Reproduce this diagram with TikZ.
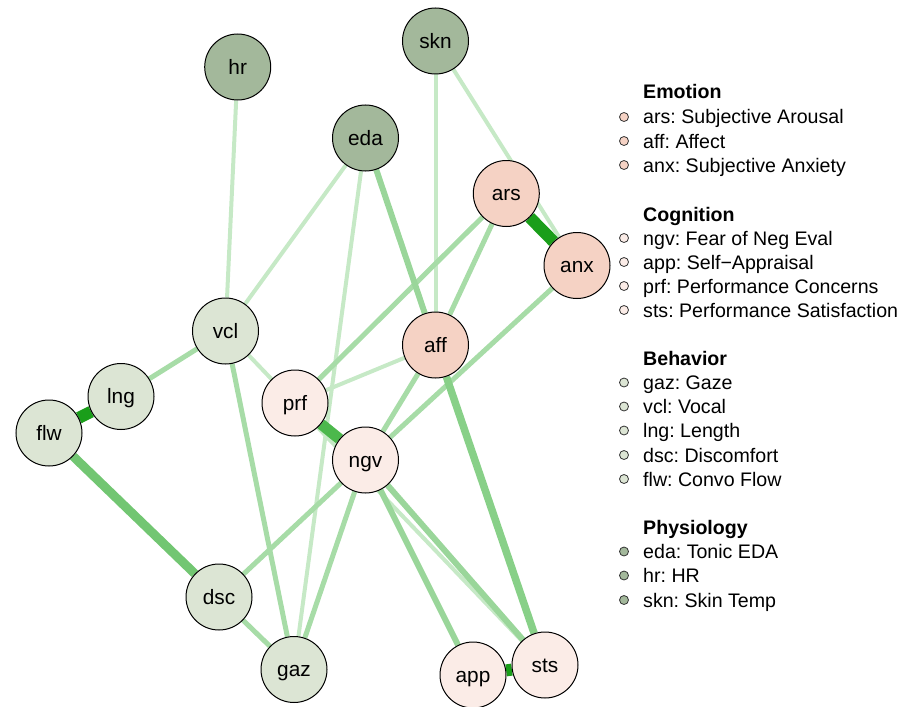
\documentclass[tikz,border=0pt]{standalone}
\usepackage{fontspec}
\setmainfont{Liberation Sans}
\usetikzlibrary{backgrounds}
\frenchspacing
\definecolor{phys}{HTML}{A3B89B}
\definecolor{emo}{HTML}{F5D2C4}
\definecolor{cog}{HTML}{FBECE7}
\definecolor{beh}{HTML}{DCE5D4}
\definecolor{cA}{HTML}{C6E9C6}
\definecolor{cB}{HTML}{A7DCA7}
\definecolor{cC}{HTML}{9AD69A}
\definecolor{cD}{HTML}{88D088}
\definecolor{cE}{HTML}{72C672}
\definecolor{cF}{HTML}{4CB84C}
\definecolor{cG}{HTML}{1A9E1A}
\begin{document}
\begin{tikzpicture}[x=1pt,y=-1pt,
  vnode/.style={circle,draw=black,line width=1pt,minimum size=66pt,inner sep=0pt,
    font=\fontsize{20.8}{24}\selectfont,text height=14.9pt,text depth=0pt},
  legdot/.style={circle,draw=black!80,line width=0.8pt,minimum size=9pt,inner sep=0pt},
  legtext/.style={anchor=west,inner sep=0pt,font=\fontsize{19.6}{22}\selectfont,text height=14pt,text depth=0pt},
  leghead/.style={legtext,font=\fontsize{19.6}{22}\selectfont\bfseries},
  eA/.style={draw=cA,line width=4pt},
  eB/.style={draw=cB,line width=5pt},
  eC/.style={draw=cC,line width=6pt},
  eD/.style={draw=cD,line width=7.5pt},
  eE/.style={draw=cE,line width=9pt},
  eF/.style={draw=cF,line width=11pt},
  eG/.style={draw=cG,line width=12pt}]
\useasboundingbox (0,0) rectangle (917,706);
% nodes
\node[vnode,fill=phys] (hr)  at (237.7,67)  {hr};
\node[vnode,fill=phys] (skn) at (435.5,41)  {skn};
\node[vnode,fill=phys] (eda) at (365.5,138) {eda};
\node[vnode,fill=emo]  (ars) at (506.3,193.5) {ars};
\node[vnode,fill=emo]  (anx) at (577,265.5) {anx};
\node[vnode,fill=emo]  (aff) at (435.5,345) {aff};
\node[vnode,fill=beh]  (vcl) at (225.5,331) {vcl};
\node[vnode,fill=beh]  (lng) at (121,396.5) {lng};
\node[vnode,fill=beh]  (flw) at (49,433)    {flw};
\node[vnode,fill=cog]  (prf) at (295,403)   {prf};
\node[vnode,fill=cog]  (ngv) at (365.5,460) {ngv};
\node[vnode,fill=beh]  (dsc) at (219,597)   {dsc};
\node[vnode,fill=beh]  (gaz) at (294,669.5) {gaz};
\node[vnode,fill=cog]  (app) at (473,675)   {app};
\node[vnode,fill=cog]  (sts) at (545,665)   {sts};
% edges
\begin{scope}[on background layer]
\draw[eA] (hr) -- (vcl);
\draw[eA] (skn) -- (aff);
\draw[eA] (skn) -- (anx);
\draw[eA] (eda) -- (vcl);
\draw[eA] (eda) -- (gaz);
\draw[eA] (aff) -- (prf);
\draw[eA] (vcl) -- (sts);
\draw[eB] (ars) -- (prf);
\draw[eB] (ars) -- (aff);
\draw[eB] (aff) -- (ngv);
\draw[eB] (ngv) -- (dsc);
\draw[eB] (ngv) -- (gaz);
\draw[eB] (vcl) -- (gaz);
\draw[eB] (dsc) -- (gaz);
\draw[eB] (anx) -- (ngv);
\draw[eB] (vcl) -- (lng);
\draw[eC] (eda) -- (aff);
\draw[eC] (ngv) -- (app);
\draw[eC] (ngv) -- (sts);
\draw[eD] (aff) -- (sts);
\draw[eE] (flw) -- (dsc);
\draw[eF] (prf) -- (ngv);
\draw[eG] (ars) -- (anx);
\draw[eG] (lng) -- (flw);
\draw[eG] (app) -- (sts);
\end{scope}
% legend
\node[leghead] (hEmo) at (643,92) {Emotion};
\node[legdot,fill=emo] (d1) at (624,117) {};
\node[legtext] (t1) at (643,117) {ars: Subjective Arousal};
\node[legdot,fill=emo] (d2) at (624,141) {};
\node[legtext] (t2) at (643,141) {aff: Affect};
\node[legdot,fill=emo] (d3) at (624,165) {};
\node[legtext] (t3) at (643,165) {anx: Subjective Anxiety};
\node[leghead] (hCog) at (643,214) {Cognition};
\node[legdot,fill=cog] (d4) at (624,238) {};
\node[legtext] (t4) at (643,238) {ngv: Fear of Neg Eval};
\node[legdot,fill=cog] (d5) at (624,262) {};
\node[legtext] (t5) at (643,262) {app: Self−Appraisal};
\node[legdot,fill=cog] (d6) at (624,286) {};
\node[legtext] (t6) at (643,286) {prf: Performance Concerns};
\node[legdot,fill=cog] (d7) at (624,310) {};
\node[legtext] (t7) at (643,310) {sts: Performance Satisfaction};
\node[leghead] (hBeh) at (643,358) {Behavior};
\node[legdot,fill=beh] (d8) at (624,382.5) {};
\node[legtext] (t8) at (643,382.5) {gaz: Gaze};
\node[legdot,fill=beh] (d9) at (624,406.5) {};
\node[legtext] (t9) at (643,406.5) {vcl: Vocal};
\node[legdot,fill=beh] (d10) at (624,430.5) {};
\node[legtext] (t10) at (643,430.5) {lng: Length};
\node[legdot,fill=beh] (d11) at (624,455) {};
\node[legtext] (t11) at (643,455) {dsc: Discomfort};
\node[legdot,fill=beh] (d12) at (624,479) {};
\node[legtext] (t12) at (643,479) {flw: Convo Flow};
\node[leghead] (hPhy) at (643,527.5) {Physiology};
\node[legdot,fill=phys] (d13) at (624,551.5) {};
\node[legtext] (t13) at (643,551.5) {eda: Tonic EDA};
\node[legdot,fill=phys] (d14) at (624,575.5) {};
\node[legtext] (t14) at (643,575.5) {hr: HR};
\node[legdot,fill=phys] (d15) at (624,600) {};
\node[legtext] (t15) at (643,600) {skn: Skin Temp};
\end{tikzpicture}
\end{document}
